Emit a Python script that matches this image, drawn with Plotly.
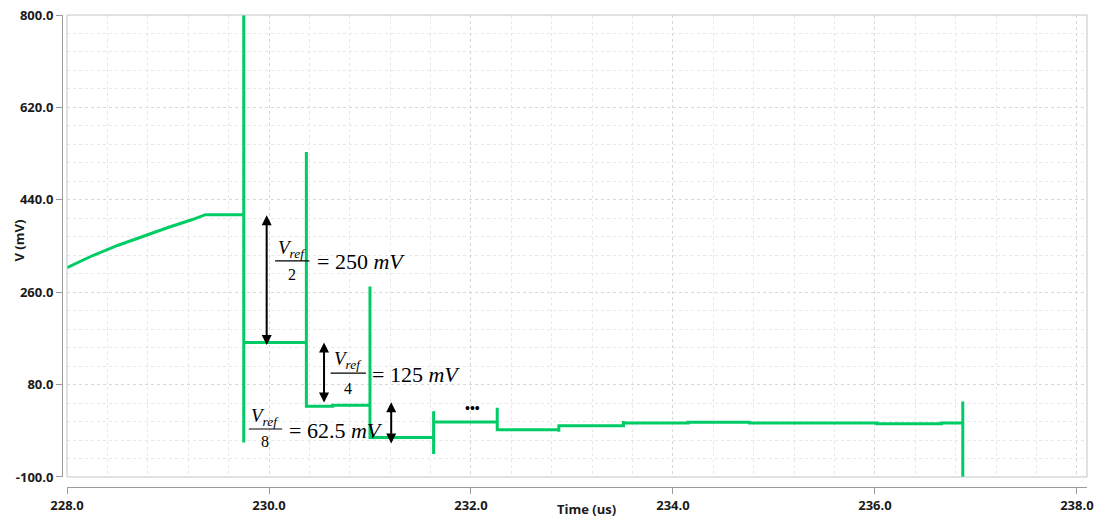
import plotly.graph_objects as go

# ---- data ----
ramp_t = [228.0, 228.25, 228.5, 228.75, 229.0, 229.25, 229.37]
ramp_v = [308, 331, 351, 369, 386, 402, 410]

step_t = [229.37, 229.75, 229.75, 229.75, 229.75,
          230.37, 230.37, 230.37, 230.63, 230.63,
          231.0, 231.0, 231.0,
          231.63, 231.63, 231.63, 231.63,
          232.26, 232.26, 232.26,
          232.87, 232.87, 232.87,
          233.51, 233.51, 233.51,
          234.15, 234.15,
          234.76, 234.76, 234.76,
          236.02, 236.02,
          236.66, 236.66,
          236.87, 236.87, 236.87]
step_v = [411, 411, 800, -33, 162,
          162, 533, 38, 38, 40,
          40, 271, -23,
          -23, -55, 28, 7,
          7, 35, -8,
          -8, -12, 0,
          0, 9, 5,
          5, 6.5,
          6.5, 9, 5,
          5, 3.5,
          3.5, 5,
          5, 47, -100]

x_ticks = [228, 230, 232, 234, 236, 238]
y_ticks = [-100, 80, 260, 440, 620, 800]

t_us = ramp_t + step_t
v_mv = ramp_v + step_v

GREEN = "#00CC66"
AXIS_FONT = dict(family="Open Sans", size=13, color="#1a1a1a", weight="bold")
MATH = "Liberation Serif"

fig = go.Figure()
fig.add_trace(go.Scatter(x=t_us, y=v_mv, mode="lines",
                         line=dict(color=GREEN, width=3), showlegend=False,
                         hoverinfo="skip"))

grid_major = "#d8d8d8"
grid_minor = "#e8e8e8"

fig.update_layout(
    width=1098, height=520,
    margin=dict(l=62, r=11, t=15, b=33, autoexpand=False),
    paper_bgcolor="white", plot_bgcolor="white",
    xaxis=dict(domain=[0.0049, 1], range=[228, 238.1], anchor="free", position=0,
               automargin=False,
               tickvals=x_ticks, ticktext=[f"{v:.1f}" for v in x_ticks],
               showline=True, linecolor="#9a9a9a", linewidth=1,
               ticks="outside", ticklen=6, tickcolor="#9a9a9a",
               tickfont=AXIS_FONT, zeroline=False,
               showgrid=True, gridcolor=grid_major, griddash="dot", gridwidth=1,
               minor=dict(dtick=0.4, tick0=228, showgrid=True, gridcolor=grid_minor,
                          griddash="dot", ticks="")),
    yaxis=dict(domain=[0.0212, 1], range=[-100, 800], anchor="free", position=0,
               automargin=False,
               tickvals=y_ticks, ticktext=[f"{v:.1f}" for v in y_ticks],
               showline=True, linecolor="#9a9a9a", linewidth=1,
               ticks="outside", ticklen=6, tickcolor="#9a9a9a",
               tickfont=AXIS_FONT, zeroline=False,
               showgrid=True, gridcolor=grid_major, griddash="dot", gridwidth=1,
               minor=dict(dtick=36, tick0=-100, showgrid=True, gridcolor=grid_minor,
                          griddash="dot", ticks="")),
)

# plot-area border
fig.add_shape(type="rect", xref="x domain", yref="y domain", x0=0, x1=1, y0=0, y1=1,
              line=dict(color="#c4c4c4", width=1), layer="above")

# axis titles
fig.add_annotation(text="V (mV)", xref="paper", yref="paper", x=-0.042, y=0.522,
                   textangle=-90, showarrow=False, font=AXIS_FONT,
                   xanchor="center", yanchor="middle")
fig.add_annotation(text="Time (us)", xref="paper", yref="paper", x=0.512, y=-0.0466,
                   showarrow=False, font=AXIS_FONT, xanchor="center", yanchor="middle")

# double-headed arrows
arrows = [(229.977, 410, 154), (230.545, 162, 42), (231.21, 45.5, -37.7)]
for ax_t, top, bot in arrows:
    fig.add_annotation(x=ax_t, y=top, ax=ax_t, ay=bot, xref="x", yref="y",
                       axref="x", ayref="y", text="", showarrow=True,
                       arrowhead=2, startarrowhead=2, arrowside="end+start",
                       arrowsize=1, startarrowsize=1, arrowwidth=2,
                       arrowcolor="black", standoff=0, startstandoff=0)

# fraction labels
fracs = [
    (230.23, 345, 230.06, 230.40, 321, 295, "2", 230.455, 320, "= 250 <i>mV</i>"),
    (230.78, 128, 230.61, 230.96, 102.5, 73, "4", 231.0, 100.6, "= 125 <i>mV</i>"),
    (229.96, 17, 229.80, 230.13, -6.5, -30, "8", 230.18, -8.5, "= 62.5 <i>mV</i>"),
]
for nt, nv, b0, b1, bv, dv, dtxt, rt, rv, rtxt in fracs:
    fig.add_annotation(x=nt, y=nv, text="<i>V</i><sub><i>ref</i></sub>", showarrow=False,
                       font=dict(family=MATH, size=19, color="black"),
                       xanchor="center", yanchor="middle")
    fig.add_shape(type="line", x0=b0, x1=b1, y0=bv, y1=bv, xref="x", yref="y",
                  line=dict(color="black", width=1.2))
    fig.add_annotation(x=nt, y=dv, text=dtxt, showarrow=False,
                       font=dict(family=MATH, size=16, color="black"),
                       xanchor="center", yanchor="middle")
    fig.add_annotation(x=rt, y=rv, text=rtxt, showarrow=False,
                       font=dict(family=MATH, size=22, color="black"),
                       xanchor="left", yanchor="middle")

# ellipsis
fig.add_annotation(x=232.02, y=34, text="•••", showarrow=False,
                   font=dict(family="Liberation Sans", size=14, color="black"),
                   xanchor="center", yanchor="middle")

fig.write_html("out.html", config={"displayModeBar": False},
               post_script="document.body.style.margin='0px';")
